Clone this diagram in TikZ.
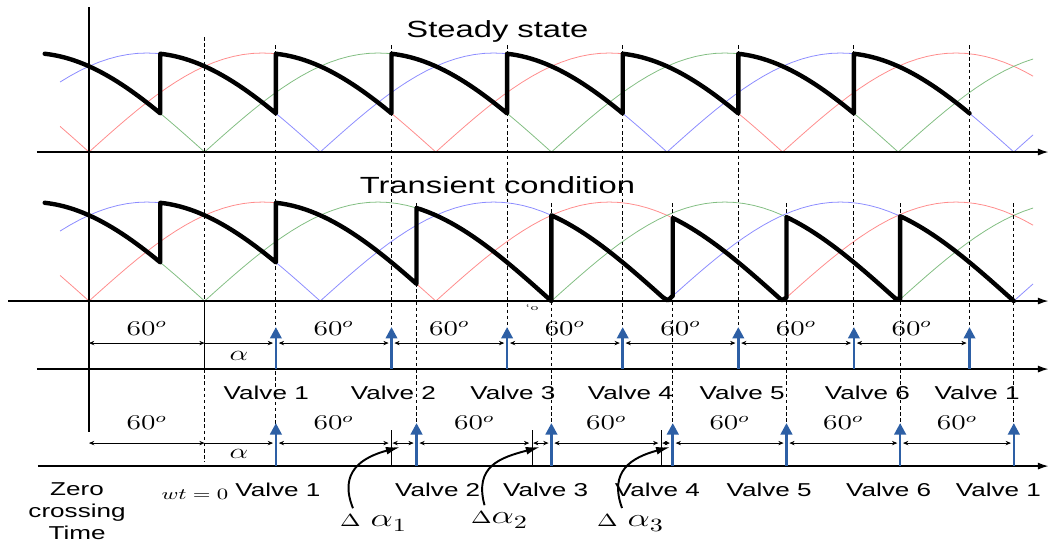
\documentclass[tikz,border=0pt]{standalone}
\usepackage{fontspec}
\usepackage{amsmath}
\usepackage{xcolor}
\usepackage{tikz}
\usetikzlibrary{arrows.meta}
\newfontfamily\arialfont{Liberation Sans}
\definecolor{phasered}{RGB}{255,140,140}
\definecolor{phasegreen}{RGB}{130,190,130}
\definecolor{phaseblue}{RGB}{140,140,255}
\definecolor{pulseblue}{RGB}{45,95,165}
\newcommand{\dalph}[2]{{\fontsize{10}{12}\selectfont$\Delta$}\hspace{#1}%
  {\fontsize{14}{16}\selectfont$\alpha$}\raisebox{-3pt}{\fontsize{10.6}{12}\selectfont #2}}

\begin{document}
\begin{tikzpicture}[x=0.0385333cm, y=1cm,
  every node/.style={xscale=1.4},
  phase/.style={line width=0.45pt, samples=102},
  wave/.style={line width=2.5pt, line cap=round, line join=round},
  timeaxis/.style={thick, -{Latex[length=6pt,width=4pt]}},
  guideline/.style={line width=0.5pt, dash pattern=on 2pt off 1.5pt},
  pulse/.style={pulseblue, line width=1.5pt, -{Triangle[length=6.5pt,width=6.5pt]}},
  dimline/.style={line width=0.4pt, {Stealth[length=3pt,width=2.5pt]}-{Stealth[length=3pt,width=2.5pt]}},
  alphaline/.style={line width=0.4pt, -{Stealth[length=3pt,width=2.5pt]}},
  bendarrow/.style={line width=1.1pt, -{Latex[length=8pt,width=4.5pt]}},
  degtxt/.style={font=\fontsize{11.5}{13}\selectfont},
  valvetxt/.style={font=\arialfont\fontsize{10.6}{12.5}\selectfont},
  headtxt/.style={font=\arialfont\fontsize{13.3}{16}\selectfont}]
  \useasboundingbox (-46.19,-7.80) rectangle (499.3,3.04);
  % fases retificadas (regime e transitorio)
  \foreach \base in {0,-2.98}
    \foreach \c/\p in {phasered/0, phasegreen/60, phaseblue/120}
      \draw[phase, \c] plot[domain=-15:490] (\x,{\base+1.98*abs(sin(\x-\p))});
  % tensao de saida, regime permanente
  \draw[wave] (-23,{1.98*abs(sin(-83))})
    \foreach \a/\b/\p in {-23/37/60, 37/97/120, 97/157/180, 157/217/240,
      217/277/300, 277/337/360, 337/397/420, 397/457/480}
    { -- plot[domain=\a:\b, samples=25] (\x,{1.98*abs(sin(\x-\p))}) };
  % tensao de saida, transitorio
  \draw[wave] (-23,{-2.98+1.98*abs(sin(-83))})
    \foreach \a/\b/\p in {-23/37/60, 37/97/120, 97/170/180, 170/240/240,
      240/303/300, 303/362/360, 362/421/420, 421/480/480}
    { -- plot[domain=\a:\b, samples=25] (\x,{-2.98+1.98*abs(sin(\x-\p))}) };
  \node[headtxt] (steady) at (212,2.42) {Steady state};
  \node[headtxt] (transient) at (212,-0.66) {Transient condition};
  % linhas verticais
  \draw[line width=0.6pt] (0,2.9) -- (0,-5.6);
  \draw[guideline] (60,2.3) -- (60,-2.98);
  \draw[line width=0.6pt] (60,-2.98) -- (60,-4.34);
  \draw[guideline] (60,-4.34) -- (60,-6.2);
  \foreach \t in {157,217,...,457} \draw[guideline] (\t,2.14) -- (\t,-4.34);
  \draw[guideline] (97,2.14) -- (97,-6.28);
  \foreach \t in {170,240,303,362,421,480} \draw[guideline] (\t,-1.02) -- (\t,-6.28);
  % eixos
  \draw[timeaxis] (-27,0) -- (498,0);
  \draw[timeaxis] (-42,-2.98) -- (498,-2.98);
  \draw[timeaxis] (-27,-4.34) -- (498,-4.34);
  \draw[timeaxis] (-26.5,-6.28) -- (498,-6.28);
  \node (stray) at (230,-3.1) {\fontsize{5}{5}\selectfont `o};
  % pulsos de disparo, regime
  \draw[dimline] (0,-3.82) -- (60,-3.82) node[midway, above=1pt, degtxt] {$60^o$};
  \draw[alphaline] (60,-3.82) -- (95.5,-3.82) node[midway, below=1pt, degtxt] {$\alpha$};
  \foreach \t in {97,157,...,397}
    \draw[dimline] (\t+1.5,-3.82) -- (\t+58.5,-3.82) node[midway, above=1pt, degtxt] {$60^o$};
  \foreach \t in {97,157,...,457} \draw[pulse] (\t,-4.34) -- (\t,-3.5);
  \foreach \x/\n [count=\i] in {92/1, 158/2, 220/3, 281/4, 339/5, 404/6, 461/1}
    \node[valvetxt] (sv\i) at (\x,-4.82) {Valve \n};
  % pulsos de disparo, transitorio
  \draw[dimline] (0,-5.82) -- (60,-5.82) node[midway, above=4pt, degtxt] {$60^o$};
  \draw[alphaline] (60,-5.82) -- (95.5,-5.82) node[midway, below=0pt, degtxt] {$\alpha$};
  \foreach \a/\b in {97/157, 170/230, 240/297, 303/362, 362/421, 421/480}
    \draw[dimline] (\a+1.5,-5.82) -- (\b-1.5,-5.82) node[midway, above=4pt, degtxt] {$60^o$};
  \foreach \a/\b in {157/170, 230/240, 297/303}
    \draw[dimline] (\a+0.5,-5.82) -- (\b-1.5,-5.82);
  \foreach \t in {157,230,297} \draw[line width=0.6pt] (\t,-5.56) -- (\t,-6.28);
  \foreach \t in {97,170,240,303,362,421,480} \draw[pulse] (\t,-6.28) -- (\t,-5.42);
  \foreach \x/\n [count=\i] in {98/1, 181/2, 237/3, 295/4, 353/5, 415/6, 472/1}
    \node[valvetxt] (tv\i) at (\x,-6.76) {Valve \n};
  % legendas inferiores
  \node[valvetxt, align=center] (zc) at (-6.2,-7.18) {Zero\\crossing\\Time};
  \node[font=\fontsize{8.8}{10}\selectfont] (wt0) at (55,-6.84) {$wt=0$};
  \node (da1) at (147.4,-7.42) {\dalph{4pt}{1}};
  \node (da2) at (212.8,-7.36) {\dalph{0pt}{2}};
  \node (da3) at (280.8,-7.42) {\dalph{4pt}{3}};
  \coordinate (g1) at (161.4,-5.9);
  \coordinate (g2) at (234,-5.9);
  \coordinate (g3) at (301.6,-5.9);
  \draw[bendarrow] ([xshift=-0.4cm]da1.north) to[out=112, in=195, looseness=1.3] (g1);
  \draw[bendarrow] ([xshift=-0.29cm]da2.north) to[out=105, in=195, looseness=1.3] (g2);
  \draw[bendarrow] ([xshift=-0.16cm]da3.north) to[out=110, in=195, looseness=1.3] (g3);
\end{tikzpicture}
\end{document}
